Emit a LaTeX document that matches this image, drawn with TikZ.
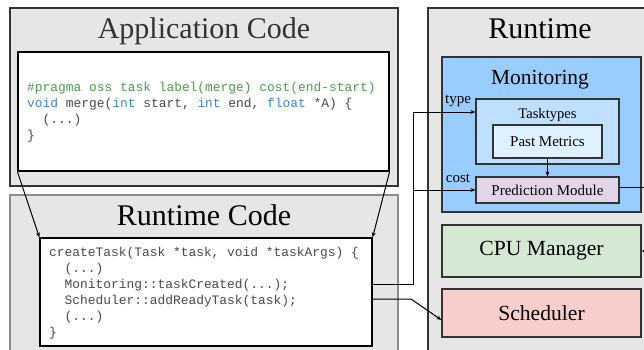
\documentclass[tikz,border=0pt]{standalone}
\usepackage{fontspec}
\setmainfont{Liberation Serif}
\setmonofont{Liberation Mono}
\usetikzlibrary{arrows.meta}
\definecolor{outerfill}{HTML}{E6E6E6}
\definecolor{darkb}{HTML}{333333}
\definecolor{lightb}{HTML}{8C8C8C}
\definecolor{monfill}{HTML}{99CCFF}
\definecolor{ttfill}{HTML}{BFDFFF}
\definecolor{pmfill}{HTML}{DFF0FF}
\definecolor{predfill}{HTML}{E1D5E7}
\definecolor{cpufill}{HTML}{D5E8D4}
\definecolor{schedfill}{HTML}{F8CECC}
\definecolor{cgreen}{HTML}{4E9E4E}
\definecolor{cblue}{HTML}{3F86D6}
\definecolor{ctext}{HTML}{4A4A4A}
\tikzset{
  box/.style={draw=darkb, line width=1.2pt, inner sep=0pt, minimum width=#1},
  codebox/.style={draw=black, fill=white, line width=1.2pt, inner sep=0pt},
  codetext/.style={inner sep=0pt, align=left, anchor=west,
     font=\ttfamily\fontsize{12.9}{16}\selectfont, text=ctext},
  bigtitle/.style={font=\fontsize{30}{36}\selectfont, inner sep=0pt},
  midtitle/.style={font=\fontsize{21.6}{26}\selectfont, inner sep=0pt},
  smalltitle/.style={font=\fontsize{15}{18}\selectfont, inner sep=0pt},
  arr/.style={line width=1pt, -{Stealth[length=5pt,width=4pt]}}
}
\begin{document}
\begin{tikzpicture}[x=1pt,y=-1pt]
\useasboundingbox (0,0) rectangle (644,349);
\clip (0,0) rectangle (644,349);
% Application Code
\node[box=388pt, fill=outerfill, minimum height=178pt] (appouter) at (204,97) {};
\node[bigtitle, text=darkb] (apptitle) at (204,31) {Application Code};
\node[codebox, minimum width=371pt, minimum height=119pt] (appcode) at (203.5,111.5) {};
\node[codetext] (appcodetxt) at (27,112) {%
{\color{cgreen}\#pragma oss task label(merge) cost(end-start)}\\
{\color{cblue}void} merge({\color{cblue}int} start, {\color{cblue}int} end, {\color{cblue}float} *A) \{\\
\hphantom{xx}(...)\\
\}};
% Runtime Code
\node[box=388pt, draw=lightb, fill=outerfill, minimum height=170pt] (rtouter) at (204,280) {};
\node[bigtitle] (rttitle) at (204,215) {Runtime Code};
\node[codebox, minimum width=332pt, minimum height=108pt] (rtcode) at (206,292) {};
\node[codetext] (rtcodetxt) at (49,293.5) {%
createTask(Task *task, void *taskArgs) \{\\
\hphantom{xx}(...)\\
\hphantom{xx}Monitoring::taskCreated(...);\\
\hphantom{xx}Scheduler::addReadyTask(task);\\
\hphantom{xx}(...)\\
\}};
% Runtime
\node[box=232pt, fill=outerfill, minimum height=360pt] (runtime) at (544,188) {};
\node[bigtitle] (runtimetitle) at (540,29) {Runtime};
\node[box=199pt, fill=monfill, minimum height=155pt] (monitoring) at (541.5,134.5) {};
\node[font=\fontsize{21.5}{26}\selectfont, inner sep=0pt] (montitle) at (540,80) {Monitoring};
\node[box=143pt, fill=ttfill, minimum height=65pt] (tasktypes) at (547.5,131.5) {};
\node[font=\fontsize{14.6}{18}\selectfont, inner sep=0pt] (tttitle) at (547.5,115) {Tasktypes};
\node[box=109pt, fill=pmfill, minimum height=33pt, smalltitle] (past) at (547.5,141.5) {Past Metrics};
\node[box=143pt, fill=predfill, minimum height=26pt, smalltitle] (predict) at (547.5,190) {Prediction Module};
\node[box=199pt, fill=cpufill, minimum height=52pt, midtitle] (cpu) at (541.5,251) {CPU Manager};
\node[box=199pt, fill=schedfill, minimum height=48pt, midtitle] (sched) at (541.5,313) {Scheduler};
\node[smalltitle] (typelbl) at (458,101) {type};
\node[smalltitle] (costlbl) at (458,178) {cost};
% connectors
\draw[arr] (appcode.south west) -- (rtcode.north west);
\draw[arr] (appcode.south east) -- (rtcode.north east);
\draw[arr] (past.south) -- (predict.north);
\draw[arr] ([yshift=8pt]rtcode.east) -| (413,112) -- ([yshift=19.5pt]tasktypes.west);
\draw[arr] (413,190) -- (predict.west);
\draw[arr] ([yshift=-7pt]rtcode.east) -- (411,299) -- ([yshift=-7pt]sched.west);
\draw[arr] ([yshift=3pt]predict.east) -- (655,187) |- (cpu.east);
\end{tikzpicture}
\end{document}
